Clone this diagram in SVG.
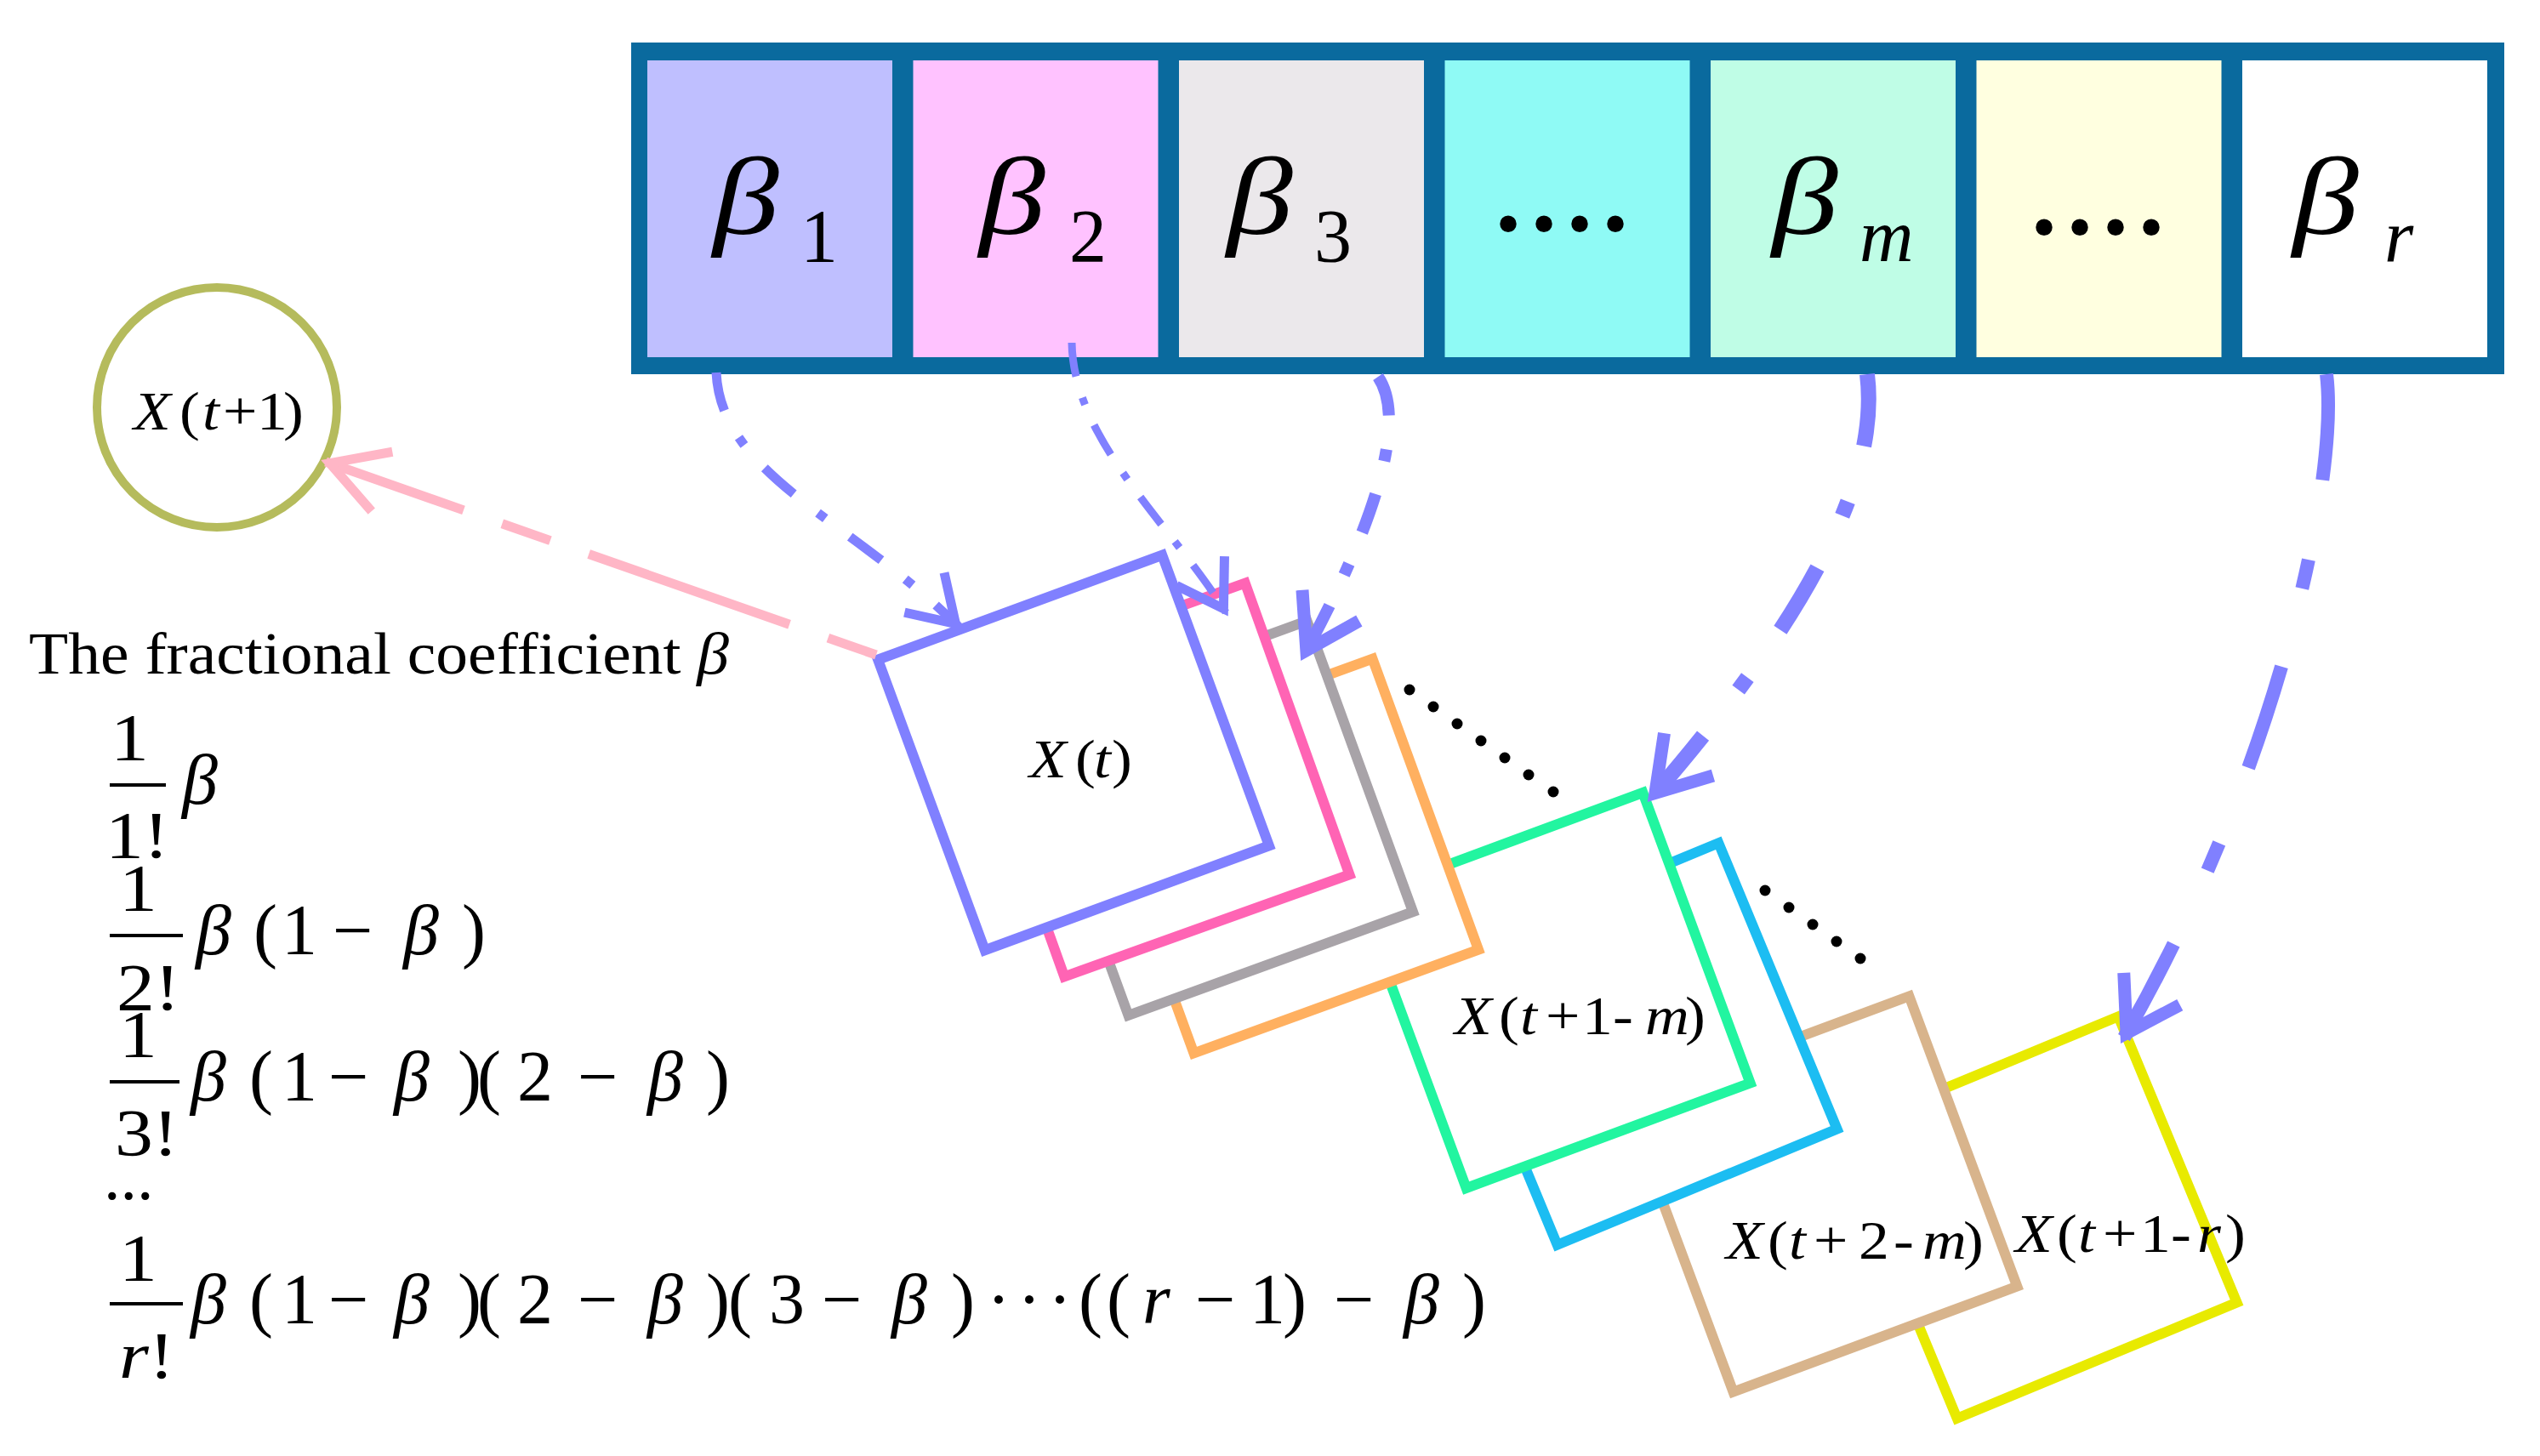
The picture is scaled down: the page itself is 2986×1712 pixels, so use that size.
<svg xmlns="http://www.w3.org/2000/svg" width="2986" height="1712" viewBox="0 0 2986 1712">
<defs>
<style>
.math{font-family:"Liberation Serif","Times New Roman",serif;fill:#000}
.i{font-style:italic}
.sq{fill:#fff;stroke-width:12;stroke-linejoin:miter}
.conn{fill:none;stroke:#8080FF;stroke-linecap:butt}
.bar{stroke:#000;stroke-width:4}
.dot{fill:#000}
.bigb{font-size:130px}
.sub{font-size:88px}
.lbl{font-size:64px}
.frm{font-size:84px}
.fr{font-size:78px}
.dots{font-size:120px;font-weight:bold;letter-spacing:12px}
</style>
<marker id="hs" markerUnits="userSpaceOnUse" orient="auto" markerWidth="160" markerHeight="160" viewBox="-120 -80 160 160" refX="5" refY="0">
<path d="M-52,-33 L0,0 L-52,33" fill="none" stroke="#8080FF" stroke-width="11"/>
</marker>
<marker id="hl" markerUnits="userSpaceOnUse" orient="auto" markerWidth="160" markerHeight="160" viewBox="-120 -80 160 160" refX="6" refY="0">
<path d="M-60,-38 L0,0 L-60,38" fill="none" stroke="#8080FF" stroke-width="15"/>
</marker>
<marker id="pk" markerUnits="userSpaceOnUse" orient="auto" markerWidth="160" markerHeight="160" viewBox="-120 -80 160 160" refX="5" refY="0">
<path d="M-65,-37 L0,0 L-65,37" fill="none" stroke="#FFB6C6" stroke-width="11"/>
</marker>
</defs>
<rect width="2986" height="1712" fill="#fff"/>

<g id="coefficient-band">
<rect x="742" y="50" width="2202" height="390" fill="#0A6A9E"/>
<rect x="761" y="71" width="288" height="349" fill="#BFBFFF"/>
<rect x="1073.5" y="71" width="288" height="349" fill="#FFC2FF"/>
<rect x="1386" y="71" width="288" height="349" fill="#EBE8EB"/>
<rect x="1698.5" y="71" width="288" height="349" fill="#8FFAF5"/>
<rect x="2011" y="71" width="288" height="349" fill="#BFFDE6"/>
<rect x="2323.5" y="71" width="288" height="349" fill="#FFFFE0"/>
<rect x="2636" y="71" width="288" height="349" fill="#FFFFFF"/>
<text class="math bigb i" transform="translate(838,275) scale(1.2,1)">β</text><text class="math sub" x="941" y="307">1</text>
<text class="math bigb i" transform="translate(1151,275) scale(1.2,1)">β</text><text class="math sub" x="1257" y="307">2</text>
<text class="math bigb i" transform="translate(1442,275) scale(1.2,1)">β</text><text class="math sub" x="1545" y="307">3</text>
<text class="math dots" x="1758" y="271">....</text>
<text class="math bigb i" transform="translate(2083,275) scale(1.2,1)">β</text><text class="math sub i" x="2186" y="307">m</text>
<text class="math dots" x="2388" y="275">....</text>
<text class="math bigb i" transform="translate(2695,275) scale(1.2,1)">β</text><text class="math sub i" x="2803" y="307">r</text>
</g>

<g id="node-x-t-plus-1">
<circle cx="255" cy="479" r="141" fill="#fff" stroke="#B5BB5C" stroke-width="10"/>
<text class="math lbl" transform="translate(157,505) scale(1.12,1)"><tspan class="i" x="0">X</tspan><tspan x="48.2">(</tspan><tspan class="i" x="72.3">t</tspan><tspan x="93.75">+</tspan><tspan x="129.5">1</tspan><tspan x="157.1">)</tspan></text>
</g>

<g id="node-x-t-plus-1-r">
<rect class="sq" stroke="#E8EA00" x="-178" y="-182" width="356" height="364" transform="translate(2395.5,1431.5) rotate(-22.5)"/>
</g>
<g id="node-x-t-plus-2-m">
<rect class="sq" stroke="#D8B48C" x="-178" y="-182" width="356" height="364" transform="translate(2141,1404) rotate(-20.4)"/>
</g>
<g id="node-cyan">
<rect class="sq" stroke="#1CBDF2" x="-178" y="-182" width="356" height="364" transform="translate(1925.5,1227.5) rotate(-22.5)"/>
</g>
<g id="node-x-t-plus-1-m">
<rect class="sq" stroke="#22F5A0" x="-178" y="-182" width="356" height="364" transform="translate(1827.5,1164.5) rotate(-20.3)"/>
</g>
<g id="node-orange">
<rect class="sq" stroke="#FFB060" x="-178" y="-182" width="356" height="364" transform="translate(1508.5,1006.5) rotate(-20)"/>
</g>
<g id="node-grey">
<rect class="sq" stroke="#A8A3A8" x="-178" y="-182" width="356" height="364" transform="translate(1431.5,962) rotate(-20)"/>
</g>
<g id="node-pink">
<rect class="sq" stroke="#FF64B4" x="-178" y="-182" width="356" height="364" transform="translate(1357.5,917) rotate(-19.7)"/>
</g>
<g id="node-x-t">
<rect class="sq" stroke="#8080FF" x="-178" y="-182" width="356" height="364" transform="translate(1262,885) rotate(-20.2)"/>
<text class="math lbl" transform="translate(1210,914) scale(1.12,1)"><tspan class="i" x="0">X</tspan><tspan x="48.2">(</tspan><tspan class="i" x="67.9">t</tspan><tspan x="86.6">)</tspan></text>
</g>

<g id="square-labels">
<text class="math lbl" transform="translate(1710,1216) scale(1.12,1)"><tspan class="i" x="0">X</tspan><tspan x="46.4">(</tspan><tspan class="i" x="68.75">t</tspan><tspan x="95.5">+</tspan><tspan x="133.9">1</tspan><tspan x="166.1">-</tspan><tspan class="i" x="200">m</tspan><tspan x="242">)</tspan></text>
<text class="math lbl" transform="translate(2029,1480) scale(1.12,1)"><tspan class="i" x="0">X</tspan><tspan x="43.75">(</tspan><tspan class="i" x="66.1">t</tspan><tspan x="92">+</tspan><tspan x="139.3">2</tspan><tspan x="175.9">-</tspan><tspan class="i" x="206.25">m</tspan><tspan x="249.1">)</tspan></text>
<text class="math lbl" transform="translate(2369,1472) scale(1.12,1)"><tspan class="i" x="0">X</tspan><tspan x="43.75">(</tspan><tspan class="i" x="66.1">t</tspan><tspan x="92">+</tspan><tspan x="131.25">1</tspan><tspan x="163.4">-</tspan><tspan class="i" x="191.1">r</tspan><tspan x="220.5">)</tspan></text>
</g>

<g id="dotted-lines">
<circle class="dot" cx="1657" cy="811" r="6.5"/><circle class="dot" cx="1685" cy="831" r="6.5"/><circle class="dot" cx="1713" cy="851" r="6.5"/><circle class="dot" cx="1741" cy="871" r="6.5"/><circle class="dot" cx="1769" cy="891" r="6.5"/><circle class="dot" cx="1797" cy="911" r="6.5"/><circle class="dot" cx="1826" cy="931" r="6.5"/>
<circle class="dot" cx="2075" cy="1047" r="6.5"/><circle class="dot" cx="2103" cy="1067" r="6.5"/><circle class="dot" cx="2131" cy="1087" r="6.5"/><circle class="dot" cx="2159" cy="1107" r="6.5"/><circle class="dot" cx="2187" cy="1127" r="6.5"/>
</g>

<g id="connectors">
<path class="conn" d="M842,438 C848,560 1000,610 1127,737" stroke-width="11" stroke-dasharray="46 36 11 36" marker-end="url(#hs)"/>
<path class="conn" d="M1260,403 C1262,520 1380,620 1441,720" stroke-width="9" stroke-dasharray="40 26 9 26" marker-end="url(#hs)"/>
<path class="conn" d="M1620,443 C1652,490 1625,600 1533,770" stroke-width="14" stroke-dasharray="48 40 14 40" marker-end="url(#hl)"/>
<path class="conn" d="M2195,440 C2210,560 2130,720 1942,937" stroke-width="18" stroke-dasharray="85 68 18 68" marker-end="url(#hl)"/>
<path class="conn" d="M2735,440 C2750,560 2680,900 2497,1220" stroke-width="16" stroke-dasharray="125 95 35 95" marker-end="url(#hl)"/>
<path d="M1030,770 L383,543" fill="none" stroke="#FFB6C6" stroke-width="11" stroke-dasharray="60 48 250 48" marker-end="url(#pk)"/>
</g>

<g id="coefficient-list">
<text class="math" x="34" y="792" font-size="70" textLength="823" lengthAdjust="spacingAndGlyphs">The fractional coefficient <tspan class="i">β</tspan></text>

<text class="math fr" transform="translate(130,893) scale(1.15,1)">1</text>
<line class="bar" x1="129" y1="923" x2="195" y2="923"/>
<text class="math fr" transform="translate(124,1008) scale(1.15,1)">1!</text>
<text class="math frm i" x="214" y="945">β</text>

<text class="math fr" transform="translate(140,1070) scale(1.15,1)">1</text>
<line class="bar" x1="129" y1="1100" x2="215" y2="1100"/>
<text class="math fr" transform="translate(137,1187) scale(1.15,1)">2!</text>
<text class="math frm" y="1122"><tspan class="i" x="230">β</tspan><tspan x="298">(</tspan><tspan x="331">1</tspan><tspan x="391">−</tspan><tspan class="i" x="474">β</tspan><tspan x="543">)</tspan></text>

<text class="math fr" transform="translate(140,1242) scale(1.15,1)">1</text>
<line class="bar" x1="129" y1="1272" x2="211" y2="1272"/>
<text class="math fr" transform="translate(135,1358) scale(1.15,1)">3!</text>
<text class="math frm" y="1294"><tspan class="i" x="224">β</tspan><tspan x="293">(</tspan><tspan x="331">1</tspan><tspan x="386">−</tspan><tspan class="i" x="463">β</tspan><tspan x="538">)</tspan><tspan x="561">(</tspan><tspan x="608">2</tspan><tspan x="679">−</tspan><tspan class="i" x="761">β</tspan><tspan x="830">)</tspan></text>

<text class="math fr" x="122" y="1410">...</text>

<text class="math fr" transform="translate(140,1505) scale(1.15,1)">1</text>
<line class="bar" x1="129" y1="1533" x2="215" y2="1533"/>
<text class="math fr" transform="translate(140,1620) scale(1.15,1)"><tspan class="i">r</tspan>!</text>
<text class="math frm" y="1556"><tspan class="i" x="224">β</tspan><tspan x="293">(</tspan><tspan x="331">1</tspan><tspan x="386">−</tspan><tspan class="i" x="463">β</tspan><tspan x="538">)</tspan><tspan x="561">(</tspan><tspan x="608">2</tspan><tspan x="679">−</tspan><tspan class="i" x="761">β</tspan><tspan x="830">)</tspan><tspan x="856">(</tspan><tspan x="904">3</tspan><tspan x="966">−</tspan><tspan class="i" x="1048">β</tspan><tspan x="1118">)</tspan><tspan x="1160" letter-spacing="8">···</tspan><tspan x="1268">(</tspan><tspan x="1301">(</tspan><tspan class="i" x="1343">r</tspan><tspan x="1405">−</tspan><tspan x="1469">1</tspan><tspan x="1508">)</tspan><tspan x="1568">−</tspan><tspan class="i" x="1650">β</tspan><tspan x="1719">)</tspan></text>
</g>
</svg>
